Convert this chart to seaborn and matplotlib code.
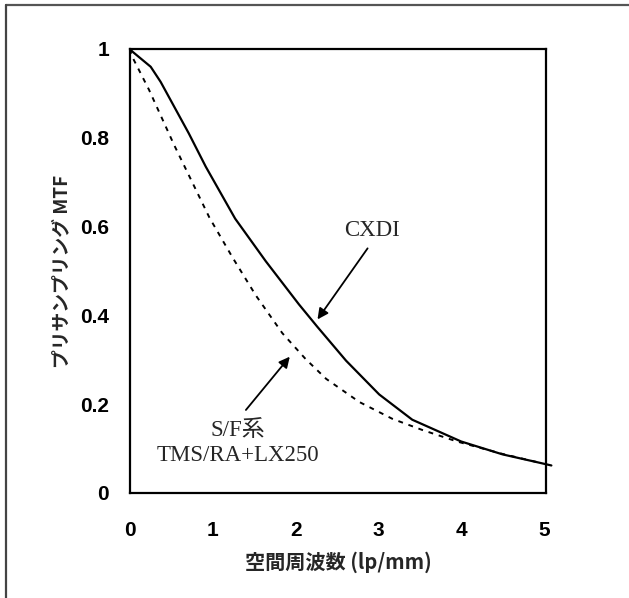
import numpy as np
import pandas as pd
import matplotlib
matplotlib.use("Agg")
import matplotlib.pyplot as plt
import seaborn as sns
from matplotlib.lines import Line2D

# ---- data ----
freq_cxdi = [0, 0.03, 0.25, 0.37, 0.71, 0.915, 1.27, 1.64, 2.04, 2.26, 2.61, 3.01, 3.41, 4.0, 4.5, 4.95, 5.09]
mtf_cxdi = [1.0, 0.994, 0.96, 0.926, 0.81, 0.735, 0.618, 0.522, 0.425, 0.375, 0.298, 0.222, 0.165, 0.116, 0.087, 0.068, 0.062]

freq_sf = [0, 0.02, 0.23, 0.53, 0.96, 1.24, 1.52, 1.84, 2.12, 2.37, 2.77, 3.17, 3.53, 3.95, 4.5, 4.93]
mtf_sf = [1.0, 0.985, 0.908, 0.785, 0.62, 0.53, 0.445, 0.36, 0.302, 0.257, 0.205, 0.167, 0.142, 0.116, 0.088, 0.069]

x_ticks = [0, 1, 2, 3, 4, 5]
y_ticks = [0, 0.2, 0.4, 0.6, 0.8, 1.0]
y_ticklabels = ["0", "0.2", "0.4", "0.6", "0.8", "1"]

x_label = "空間周波数 (lp/mm)"
y_label = "プリサンプリング MTF"
label_cxdi = "CXDI"
label_sf = "S/F系\nTMS/RA+LX250"

df_cxdi = pd.DataFrame({"freq": freq_cxdi, "mtf": mtf_cxdi})
df_sf = pd.DataFrame({"freq": freq_sf, "mtf": mtf_sf})

sns.set_theme(style="white")
plt.rcParams["font.family"] = ["Liberation Sans", "Noto Sans CJK JP", "DejaVu Sans"]

W, H = 629, 598
fig = plt.figure(figsize=(W / 100, H / 100), dpi=100)
fig.patch.set_facecolor("white")

ax_l, ax_r, ax_t, ax_b = 130, 546, 49, 493
ax = fig.add_axes([ax_l / W, 1 - ax_b / H, (ax_r - ax_l) / W, (ax_b - ax_t) / H])

sns.lineplot(data=df_cxdi, x="freq", y="mtf", ax=ax, color="black", lw=1.6,
             estimator=None, sort=False, clip_on=False)
sns.lineplot(data=df_sf, x="freq", y="mtf", ax=ax, color="black", lw=1.4,
             estimator=None, sort=False, linestyle=(0, (2.5, 3)))

ax.set_xlim(0, 5.025)
ax.set_ylim(0, 1.0)
ax.set_xticks(x_ticks)
ax.set_xticklabels([str(t) for t in x_ticks])
ax.set_yticks(y_ticks)
ax.set_yticklabels(y_ticklabels)

for s in ax.spines.values():
    s.set_visible(True)
    s.set_color("black")
    s.set_linewidth(1.6)

ax.tick_params(axis="both", direction="in", length=3, width=0.8, colors="black",
               labelsize=15, labelcolor="black")
ax.tick_params(axis="x", pad=20)
ax.tick_params(axis="y", pad=15)
for lab in ax.get_xticklabels() + ax.get_yticklabels():
    lab.set_fontweight("bold")
ax.grid(False)

ax.set_xlabel(x_label, fontsize=14.5, fontweight="bold",
              family=["Noto Sans CJK JP", "DejaVu Sans"])
ax.set_ylabel(y_label, fontsize=13.5, fontweight="bold",
              family=["Noto Sans CJK JP", "DejaVu Sans"])
ax.xaxis.set_label_coords(0.5, (ax_b - 551) / (ax_b - ax_t))
ax.yaxis.set_label_coords((71 - ax_l) / (ax_r - ax_l), 0.5)

serif = ["Liberation Serif", "Noto Sans CJK JP"]
ax.text(2.92, 0.591, label_cxdi, ha="center", va="center", fontsize=16.5, family=serif)
ax.annotate("", xy=(2.265, 0.391), xytext=(2.87, 0.551),
            arrowprops=dict(arrowstyle="-|>", color="black", lw=1.3,
                            mutation_scale=16, shrinkA=0, shrinkB=0))
ax.text(1.30, 0.112, label_sf, ha="center", va="center", fontsize=16.5,
        family=serif, linespacing=1.25)
ax.annotate("", xy=(1.93, 0.307), xytext=(1.40, 0.187),
            arrowprops=dict(arrowstyle="-|>", color="black", lw=1.3,
                            mutation_scale=16, shrinkA=0, shrinkB=0))

# outer frame (top and left edges of the scanned page)
fig.add_artist(Line2D([6 / W, 1.0], [1 - 5 / H, 1 - 5 / H], transform=fig.transFigure,
                      color="#555555", lw=1.6))
fig.add_artist(Line2D([6 / W, 6 / W], [1 - 5 / H, 0.0], transform=fig.transFigure,
                      color="#444444", lw=1.6))

fig.savefig("out.png", dpi=100, facecolor="white")
